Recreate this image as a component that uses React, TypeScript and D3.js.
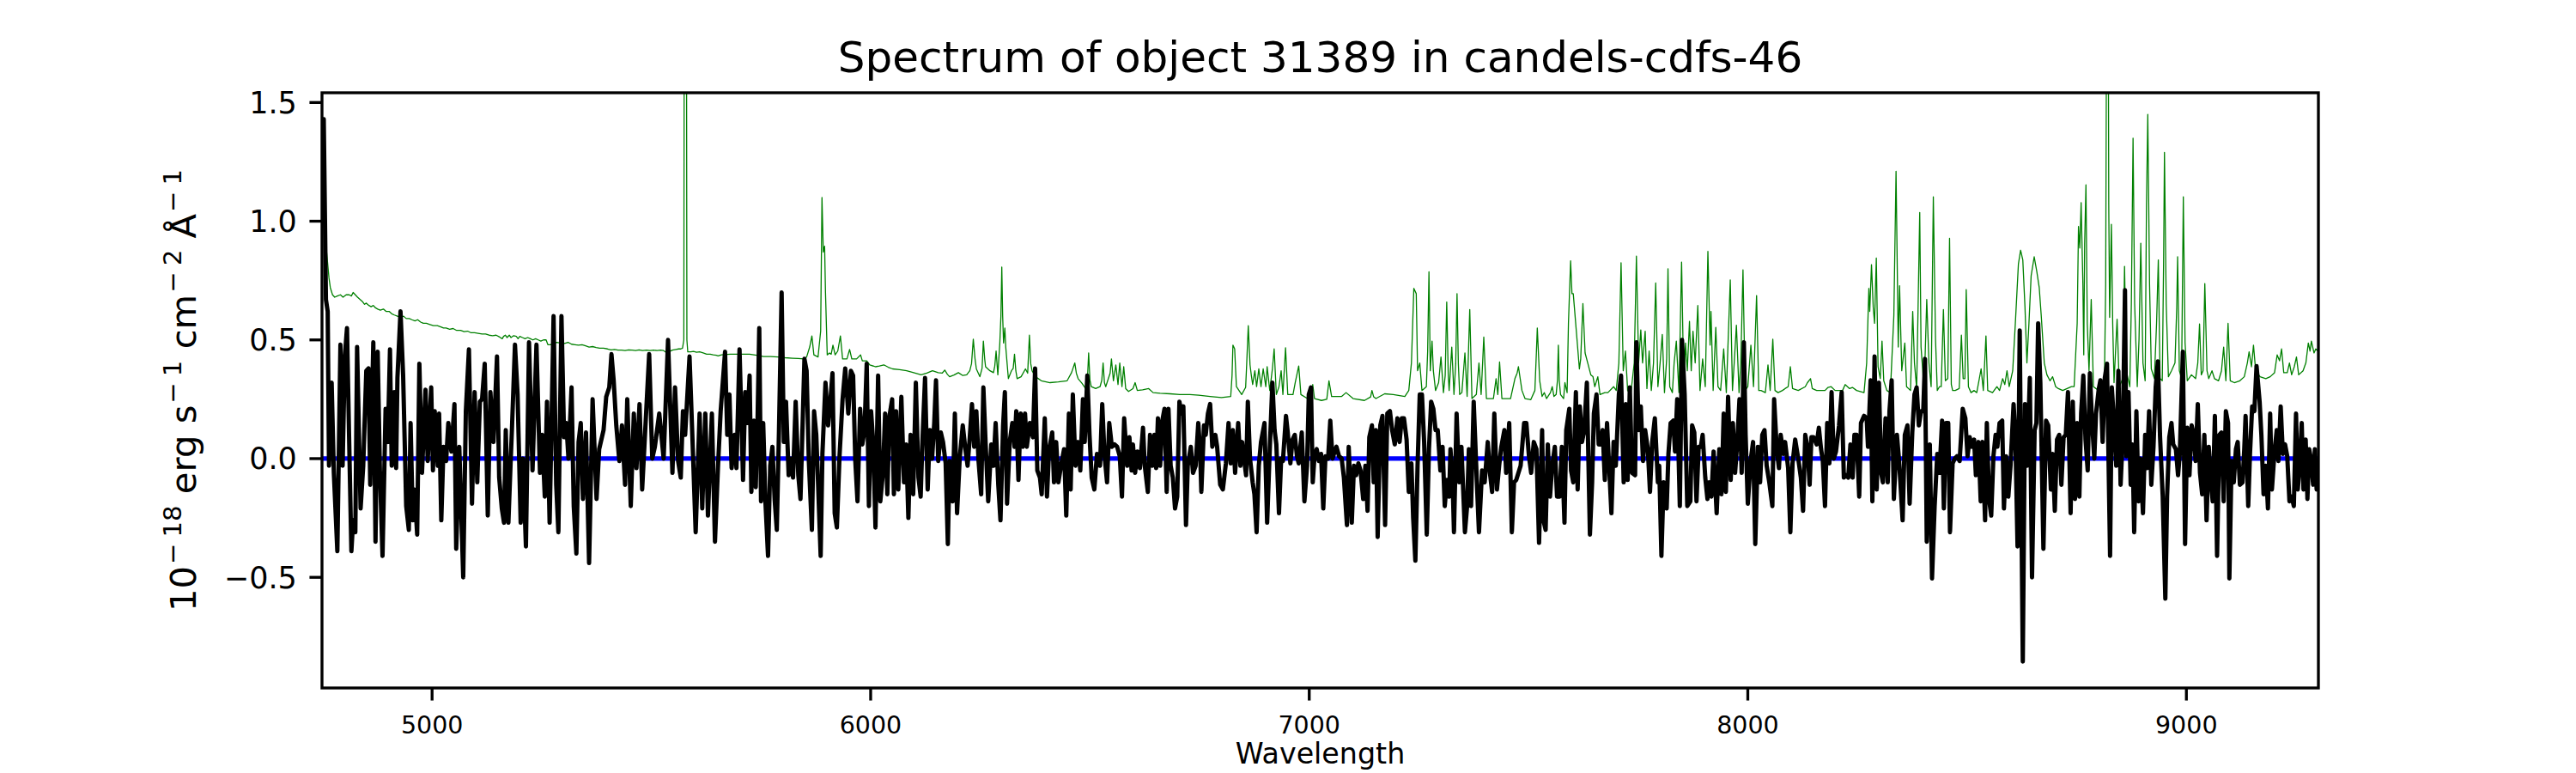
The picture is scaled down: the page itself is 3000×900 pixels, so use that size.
import React from 'react';
import * as d3 from 'd3';

const titleText = 'Spectrum of object 31389 in candels-cdfs-46';
const xLabelText = 'Wavelength';
const xTicks = [5000, 6000, 7000, 8000, 9000];
const yTicks = [-0.5, 0, 0.5, 1.0, 1.5];
const xDomain: [number, number] = [4749, 9301];
const yDomain: [number, number] = [-0.966, 1.541];
const zeroLevel = 0;

// observed flux (black), [wavelength, flux]
const fluxSeg1: [number, number][] = [[4749,1.40],[4753,1.43],[4758,0.67],[4762,0.62],[4765,-0.03],[4771,0.32],[4776,-0.06],[4784,-0.39],[4791,0.48],[4796,-0.03],[4801,0.43],[4806,0.55],[4811,0.07],[4816,-0.39],[4820,-0.26],[4825,-0.31],[4829,0.47],[4837,-0.21],[4843,-0.03],[4850,0.37],[4855,0.38],[4859,-0.11],[4866,0.49],[4871,-0.35],[4876,0.45],[4881,-0.05],[4887,-0.41],[4894,0.21],[4899,0.07],[4904,0.46],[4908,-0.03],[4914,0.28],[4918,-0.04],[4921,0.34],[4928,0.62],[4934,0.35],[4941,-0.20],[4947,-0.30],[4951,0.15],[4956,-0.26],[4960,-0.13],[4966,-0.32],[4971,0.40],[4977,-0.06],[4985,0.29],[4990,-0.01],[4998,0.30],[5002,-0.05],[5006,0.20],[5013,-0.03],[5016,0.19],[5021,-0.26],[5026,0.05],[5032,-0.01],[5037,0.15],[5044,0.03],[5051,0.23],[5055,-0.38],[5062,0.05],[5071,-0.50],[5077,0.20],[5084,0.46],[5091,-0.19],[5097,0.28],[5103,-0.10],[5109,0.24],[5114,0.25],[5120,0.40],[5127,-0.24],[5133,0.28],[5140,0.07],[5148,0.43],[5153,-0.08],[5159,-0.21],[5164,-0.27],[5168,0.12],[5174,-0.27],[5179,-0.02],[5182,0.12],[5189,0.48],[5195,0.27],[5202,-0.27],[5207,0.00],[5214,-0.37],[5221,0.49],[5229,-0.05],[5238,0.48],[5246,-0.06],[5251,0.10],[5257,-0.16],[5262,0.24],[5268,-0.27],[5277,0.60],[5283,-0.11],[5288,-0.31],[5295,0.60],[5301,0.09],[5306,0.15],[5311,0.00],[5318,0.30],[5323,-0.20],[5329,-0.40],[5334,0.07],[5339,0.15],[5344,-0.17],[5351,0.11],[5358,-0.44],[5366,0.25],[5375,-0.17],[5381,0.04],[5391,0.12],[5397,0.26],[5404,0.30],[5409,0.44],[5414,0.33],[5420,0.14],[5427,-0.01],[5433,0.14],[5440,-0.11],[5445,0.25],[5453,-0.20],[5460,0.19],[5466,-0.04],[5473,0.23],[5479,-0.13],[5486,0.12],[5495,0.44],[5502,0.00],[5508,0.05],[5518,0.19],[5528,0.00],[5538,0.50],[5548,-0.06],[5554,0.30],[5561,-0.01],[5567,-0.08],[5572,0.20],[5577,0.10],[5587,0.43],[5593,0.12],[5601,-0.31],[5610,0.19],[5616,-0.21],[5623,0.19],[5629,-0.24],[5638,0.19],[5645,-0.35],[5652,-0.03],[5658,0.20],[5668,0.45],[5673,0.10],[5678,0.27]];
const fluxSeg2: [number, number][] = [[5683,-0.04],[5690,0.10],[5694,-0.04],[5701,0.46],[5706,0.12],[5709,-0.09],[5714,0.28],[5719,0.15],[5724,0.35],[5728,-0.14],[5734,0.16],[5738,-0.12],[5742,0.15],[5746,0.55],[5750,-0.18],[5755,0.15],[5760,-0.18],[5766,-0.41],[5771,-0.03],[5776,0.05],[5781,-0.17],[5786,-0.30],[5791,0.12],[5797,0.70],[5802,0.07],[5807,0.24],[5813,-0.07],[5818,0.00],[5823,-0.08],[5829,0.24],[5835,-0.07],[5840,-0.17],[5844,0.09],[5849,0.42],[5854,0.37],[5859,-0.01],[5866,-0.30],[5871,0.20],[5876,0.10],[5880,-0.10],[5886,-0.41],[5890,0.02],[5897,0.32],[5903,0.14],[5908,0.24],[5913,0.36],[5918,-0.23],[5923,-0.29],[5929,0.01],[5936,0.25],[5942,0.38],[5949,0.19],[5955,0.37],[5960,0.35],[5965,-0.01],[5970,-0.18],[5976,0.21],[5981,0.06],[5986,0.12],[5991,0.40],[5996,-0.20],[6001,0.20],[6006,0.06],[6011,-0.29],[6017,0.35],[6022,-0.18],[6028,-0.06],[6033,0.19],[6038,-0.15],[6043,0.18],[6049,0.25],[6053,-0.15],[6058,0.20],[6063,-0.13],[6070,0.26],[6076,-0.10],[6081,0.06],[6086,-0.25],[6091,0.10],[6097,-0.15],[6103,0.32],[6109,-0.08],[6114,-0.16],[6118,0.07],[6124,0.34],[6130,-0.13],[6135,0.12],[6140,0.00],[6145,0.15],[6149,0.33],[6154,-0.01],[6160,0.11],[6165,0.07],[6171,-0.02],[6176,-0.36],[6180,-0.01],[6187,-0.18],[6192,0.19],[6197,-0.23],[6203,0.00],[6210,0.14],[6216,0.04],[6221,-0.03],[6226,0.09],[6231,0.23],[6236,0.05],[6241,0.20],[6246,-0.01],[6252,-0.15],[6257,0.30],[6262,0.07],[6268,-0.18],[6275,0.06],[6280,-0.03],[6285,0.15],[6291,-0.11],[6296,-0.26],[6302,0.14],[6306,0.28],[6311,-0.19],[6317,0.07],[6323,0.15],[6328,0.05],[6332,0.20],[6337,-0.09],[6342,0.19],[6347,0.05],[6352,0.19],[6356,0.05],[6363,0.15],[6370,0.09],[6375,0.38],[6380,-0.05],[6386,-0.08],[6390,-0.15],[6397,0.17],[6402,-0.16],[6407,0.04],[6414,0.11],[6418,-0.10],[6423,0.07],[6428,-0.10],[6435,-0.02],[6441,0.04],[6446,-0.24],[6452,0.19],[6456,-0.13],[6461,0.27],[6467,-0.03],[6473,0.07],[6478,-0.05],[6484,0.25],[6488,0.07],[6494,0.35],[6499,0.10],[6504,-0.08],[6510,-0.13],[6516,0.02],[6523,-0.03],[6528,0.23],[6533,0.02],[6539,-0.10],[6544,0.15],[6550,0.05],[6556,0.06],[6562,0.05],[6568,0.01],[6573,-0.16],[6578,0.17],[6585,-0.03],[6590,0.09],[6595,-0.05]];
const fluxSeg3: [number, number][] = [[6598,0.06],[6603,-0.06],[6608,0.03],[6614,-0.04],[6621,0.13],[6625,-0.03],[6632,-0.14],[6637,0.10],[6642,-0.03],[6647,0.10],[6651,-0.04],[6655,0.17],[6660,-0.03],[6665,0.16],[6670,0.21],[6675,-0.14],[6679,0.21],[6684,-0.03],[6689,-0.08],[6694,-0.21],[6699,-0.16],[6704,0.24],[6709,0.19],[6713,0.22],[6719,-0.28],[6723,-0.03],[6730,0.05],[6735,-0.06],[6741,-0.03],[6747,0.15],[6751,0.04],[6754,-0.14],[6760,0.14],[6764,0.10],[6769,0.19],[6774,0.23],[6779,0.05],[6786,0.10],[6790,0.05],[6797,-0.11],[6803,-0.13],[6810,-0.02],[6816,0.15],[6821,-0.02],[6826,0.12],[6831,-0.06],[6838,0.15],[6843,-0.03],[6847,0.07],[6852,-0.01],[6856,-0.07],[6860,0.24],[6865,0.00],[6871,-0.10],[6875,-0.15],[6880,-0.31],[6885,-0.03],[6890,0.07],[6895,0.12],[6898,0.15],[6904,-0.27],[6910,0.04],[6916,0.32],[6921,0.12],[6925,0.06],[6931,-0.23],[6936,0.00],[6940,-0.01],[6947,0.18],[6951,0.11],[6957,-0.02],[6962,0.08],[6967,0.10],[6972,0.01],[6976,-0.02],[6983,0.11],[6989,-0.18],[6995,-0.03],[6999,0.27],[7004,0.30],[7008,-0.10],[7012,0.01],[7017,0.04],[7022,-0.01],[7027,0.02],[7032,-0.21],[7037,0.01],[7043,0.00],[7048,0.16],[7053,0.00],[7058,0.03],[7062,0.05],[7068,0.01],[7074,0.00],[7079,-0.08],[7086,-0.28],[7090,0.05],[7097,-0.27],[7102,-0.03],[7107,-0.07],[7112,-0.02],[7117,-0.05],[7123,-0.17],[7128,-0.03],[7133,-0.22],[7137,0.09],[7143,0.14],[7147,-0.10],[7152,0.12],[7156,-0.33],[7162,0.14],[7167,0.18],[7173,-0.28],[7178,0.19],[7184,0.20],[7189,0.12],[7195,0.06],[7201,0.17],[7206,0.07],[7211,0.17],[7216,0.17],[7222,0.08],[7227,-0.14],[7233,-0.02],[7237,-0.25],[7242,-0.43],[7247,-0.03],[7252,0.27],[7257,0.27],[7262,0.07],[7268,-0.32],[7273,0.04],[7278,0.24],[7283,0.21],[7288,0.12],[7293,0.12],[7299,-0.05],[7304,0.05],[7309,-0.20],[7314,-0.09],[7319,-0.16],[7322,0.04],[7327,-0.10],[7330,-0.31],[7336,0.19],[7342,-0.10],[7347,0.05],[7355,-0.31],[7360,-0.20],[7364,0.04],[7369,-0.20],[7375,0.24],[7382,-0.09],[7387,-0.31],[7394,-0.05],[7400,-0.10],[7407,0.07],[7412,-0.06],[7417,-0.14],[7422,0.19],[7428,-0.13],[7433,-0.03],[7438,0.05],[7445,0.12],[7449,-0.06],[7456,0.15],[7462,-0.31],[7467,-0.10],[7472,-0.09],[7482,-0.03],[7490,0.15],[7495,0.15],[7501,0.01],[7506,-0.06],[7512,0.07],[7518,0.04]];
const fluxSeg4: [number, number][] = [[7524,-0.355],[7531,0.12],[7534,-0.26],[7539,-0.30],[7544,0.06],[7549,-0.16],[7554,-0.03],[7560,0.05],[7565,-0.16],[7571,-0.16],[7576,0.05],[7582,-0.27],[7586,0.12],[7593,0.21],[7597,-0.05],[7602,-0.10],[7608,0.28],[7612,-0.13],[7617,0.22],[7622,0.07],[7627,0.12],[7633,0.32],[7640,-0.32],[7645,-0.10],[7649,0.19],[7655,0.27],[7660,0.06],[7665,0.06],[7669,0.12],[7674,-0.09],[7679,0.15],[7684,-0.04],[7689,-0.23],[7694,0.07],[7699,-0.03],[7706,0.27],[7711,0.35],[7717,-0.10],[7722,0.23],[7726,-0.09],[7731,0.30],[7736,-0.06],[7743,-0.07],[7746,0.49],[7751,0.12],[7756,0.22],[7761,-0.01],[7766,0.12],[7772,0.04],[7777,-0.14],[7782,0.07],[7788,0.17],[7795,-0.10],[7798,-0.03],[7803,-0.41],[7808,-0.10],[7815,-0.21],[7819,0.02],[7824,0.15],[7830,0.16],[7834,0.03],[7839,0.25],[7845,-0.20],[7850,0.50],[7856,0.27],[7862,-0.20],[7869,-0.18],[7873,0.14],[7878,0.11],[7883,-0.18],[7888,0.05],[7893,0.05],[7897,0.10],[7903,-0.08],[7908,-0.17],[7912,-0.10],[7917,-0.16],[7922,0.03],[7929,-0.23],[7935,0.04],[7940,-0.15],[7945,0.19],[7950,-0.14],[7955,0.26],[7961,-0.09],[7966,0.15],[7971,-0.06],[7976,0.07],[7981,0.25],[7986,-0.06],[7991,0.49],[7995,0.10],[8000,-0.19],[8007,0.00],[8012,0.07],[8017,-0.36],[8023,0.05],[8028,-0.10],[8033,0.10],[8038,0.12],[8043,-0.03],[8049,-0.10],[8056,-0.20],[8060,0.25],[8066,0.04],[8071,-0.04],[8075,0.10],[8081,0.02],[8085,0.07],[8092,-0.04],[8097,-0.31],[8102,-0.02],[8108,0.08],[8115,0.00],[8121,-0.08],[8126,-0.22],[8131,0.10],[8136,0.05],[8141,-0.11],[8145,0.09],[8150,0.09],[8157,0.06],[8162,0.13],[8167,0.04],[8171,-0.01],[8176,-0.20],[8181,0.15],[8186,-0.02],[8191,0.28],[8196,0.00],[8201,0.03],[8208,0.14],[8214,0.28],[8219,-0.08],[8224,-0.07],[8229,-0.08],[8234,0.06],[8239,-0.08],[8243,0.10],[8248,0.10],[8254,-0.16],[8258,0.15],[8265,0.18],[8271,0.17],[8274,0.05],[8280,0.33],[8284,-0.18],[8289,0.43],[8294,-0.13],[8299,0.32],[8304,-0.06],[8308,-0.10],[8314,0.17],[8319,-0.10],[8323,0.20],[8328,0.33],[8333,-0.17],[8340,0.10],[8345,-0.01],[8353,-0.26],[8358,0.10],[8364,0.14],[8369,-0.19],[8375,0.11],[8380,0.27],[8385,0.30],[8390,0.14],[8395,0.20],[8400,0.20],[8404,0.42],[8408,-0.35],[8415,0.06],[8420,-0.505],[8426,-0.20],[8432,0.02],[8437,-0.06]];
const fluxSeg5: [number, number][] = [[8443,0.16],[8447,-0.21],[8452,0.15],[8457,0.15],[8461,-0.31],[8467,-0.02],[8472,0.00],[8477,0.01],[8483,-0.01],[8490,0.21],[8496,0.17],[8501,0.01],[8506,0.09],[8511,0.05],[8516,0.08],[8520,-0.07],[8526,0.07],[8531,-0.18],[8535,0.07],[8541,-0.26],[8545,0.15],[8550,-0.17],[8555,-0.24],[8560,0.01],[8565,0.10],[8569,0.05],[8574,0.15],[8580,0.16],[8584,-0.21],[8589,0.01],[8594,-0.16],[8599,-0.03],[8606,0.23],[8610,0.10],[8615,-0.37],[8620,0.54],[8627,-0.855],[8632,0.23],[8637,-0.03],[8643,0.34],[8648,-0.50],[8654,0.12],[8658,0.15],[8662,0.57],[8667,0.32],[8674,-0.38],[8680,0.16],[8685,0.14],[8691,-0.13],[8695,0.02],[8700,-0.22],[8705,0.08],[8710,0.10],[8715,-0.11],[8720,0.09],[8725,0.10],[8730,0.28],[8736,-0.23],[8741,0.24],[8746,-0.17],[8751,0.15],[8756,-0.16],[8760,0.19],[8765,0.35],[8770,0.08],[8775,-0.05],[8780,0.36],[8785,0.15],[8790,0.00],[8794,0.19],[8800,0.29],[8804,0.33],[8809,0.07],[8814,0.34],[8819,0.40],[8826,-0.41],[8830,0.30],[8835,0.15],[8840,-0.03],[8845,0.37],[8850,-0.11],[8855,0.10],[8860,0.71],[8863,0.01],[8868,0.28],[8873,-0.11],[8877,0.06],[8881,-0.31],[8886,0.20],[8891,-0.18],[8895,0.00],[8901,-0.23],[8906,0.10],[8910,-0.04],[8915,0.20],[8920,-0.11],[8925,0.05],[8930,0.30],[8935,0.41],[8940,0.09],[8946,-0.16],[8952,-0.59],[8956,-0.16],[8961,0.09],[8966,0.15],[8970,0.06],[8976,0.04],[8981,-0.07],[8985,0.02],[8992,0.45],[8997,-0.36],[9002,0.13],[9007,-0.07],[9012,0.14],[9017,0.10],[9021,-0.01],[9026,0.23],[9031,-0.06],[9036,-0.15],[9041,0.10],[9046,-0.26],[9051,0.05],[9056,-0.10],[9060,-0.18],[9065,0.18],[9070,-0.41],[9075,0.10],[9080,0.11],[9085,-0.18],[9090,0.20],[9095,0.15],[9098,-0.505],[9103,-0.01],[9108,-0.10],[9113,0.04],[9117,0.07],[9122,-0.11],[9128,-0.10],[9132,0.04],[9135,0.18],[9141,-0.20],[9145,0.02],[9150,0.22],[9155,0.20],[9160,0.39],[9167,0.24],[9171,0.10],[9176,-0.15],[9181,-0.03],[9186,-0.21],[9191,0.19],[9195,-0.13],[9201,0.03],[9206,0.12],[9210,-0.01],[9215,0.22],[9220,0.02],[9225,0.06],[9230,0.01],[9235,-0.18],[9240,-0.16],[9245,-0.20],[9250,0.19],[9254,-0.13],[9258,-0.04],[9263,0.15],[9267,-0.13],[9272,0.08],[9276,-0.17],[9280,0.04],[9284,0.00],[9289,-0.11],[9293,0.04],[9297,-0.13],[9300,0.00]];

// noise / sky spectrum (green), [wavelength, value]
const skySeg1: [number, number][] = [[4749,1.25],[4752,1.1],[4755,1.0],[4758,0.9],[4761,0.84],[4765,0.76],[4768,0.72],[4773,0.69],[4778,0.68],[4784,0.685],[4791,0.69],[4797,0.68],[4804,0.69],[4811,0.69],[4816,0.685],[4820,0.70],[4825,0.69],[4830,0.68],[4836,0.67],[4842,0.66],[4846,0.65],[4850,0.655],[4856,0.645],[4861,0.64],[4866,0.645],[4871,0.635],[4876,0.63],[4882,0.625],[4889,0.63],[4895,0.62],[4902,0.62],[4908,0.61],[4914,0.605],[4921,0.60],[4928,0.595],[4935,0.60],[4941,0.59],[4948,0.59],[4954,0.585],[4961,0.58],[4967,0.585],[4974,0.575],[4980,0.57],[4987,0.57],[4995,0.565],[5003,0.56],[5012,0.56],[5020,0.555],[5026,0.55],[5032,0.55],[5040,0.545],[5048,0.548],[5056,0.54],[5065,0.54],[5073,0.535],[5081,0.537],[5089,0.53],[5097,0.53],[5105,0.528],[5114,0.525],[5122,0.525],[5130,0.52],[5138,0.518],[5146,0.52],[5154,0.512],[5160,0.505],[5163,0.515],[5167,0.52],[5171,0.51],[5176,0.52],[5180,0.51],[5186,0.518],[5192,0.515],[5196,0.505],[5200,0.515],[5206,0.51],[5212,0.505],[5218,0.51],[5224,0.505],[5230,0.50],[5236,0.505],[5242,0.50],[5248,0.495],[5254,0.50],[5260,0.50],[5264,0.48],[5270,0.48],[5277,0.485],[5284,0.49],[5290,0.488],[5296,0.49],[5302,0.485],[5310,0.49],[5318,0.482],[5326,0.48],[5334,0.478],[5342,0.48],[5350,0.475],[5358,0.47],[5366,0.472],[5374,0.468],[5382,0.465],[5391,0.465],[5400,0.462],[5408,0.458],[5416,0.46],[5424,0.457],[5432,0.457],[5440,0.455],[5448,0.458],[5456,0.457],[5464,0.455],[5472,0.458],[5480,0.455],[5489,0.457],[5497,0.455],[5505,0.457],[5513,0.455],[5521,0.457],[5528,0.455],[5534,0.447],[5540,0.45],[5548,0.457],[5556,0.46],[5562,0.462],[5567,0.462],[5571,0.465],[5574,0.5],[5575.5,2.8],[5579.5,2.8],[5581,0.5],[5583,0.45],[5590,0.45],[5596,0.452],[5603,0.448],[5610,0.45],[5618,0.445],[5626,0.44],[5634,0.44],[5641,0.437],[5648,0.435],[5652,0.433],[5660,0.437]];
const skySeg2: [number, number][] = [[5680,0.44],[5700,0.44],[5724,0.44],[5740,0.435],[5756,0.43],[5772,0.43],[5789,0.428],[5805,0.425],[5822,0.423],[5835,0.422],[5848,0.42],[5854,0.428],[5861,0.47],[5866,0.517],[5870.5,0.437],[5880,0.428],[5886,0.537],[5889,1.10],[5892,0.87],[5895,0.895],[5897,0.70],[5901,0.437],[5906,0.445],[5910,0.44],[5914,0.478],[5919,0.437],[5925,0.453],[5931,0.517],[5936,0.42],[5946,0.42],[5952,0.46],[5957,0.42],[5968,0.42],[5977,0.437],[5981,0.412],[5991,0.412],[5998,0.395],[6011,0.387],[6020,0.39],[6030,0.395],[6040,0.385],[6050,0.378],[6066,0.375],[6082,0.37],[6098,0.362],[6115,0.353],[6128,0.36],[6141,0.37],[6154,0.362],[6163,0.36],[6169,0.373],[6175,0.355],[6180,0.345],[6190,0.352],[6200,0.362],[6210,0.35],[6219,0.353],[6226,0.37],[6230,0.40],[6234,0.503],[6238,0.42],[6241,0.378],[6249,0.345],[6254,0.38],[6257,0.495],[6260,0.42],[6262,0.387],[6272,0.37],[6280,0.362],[6283,0.39],[6286,0.453],[6290,0.353],[6294.5,0.487],[6297,0.6],[6299,0.807],[6301,0.6],[6303,0.487],[6306,0.55],[6308,0.47],[6314,0.337],[6321,0.37],[6325,0.38],[6328,0.44],[6331,0.37],[6334,0.337],[6343,0.345],[6353,0.378],[6358,0.36],[6362,0.52],[6365,0.4],[6368,0.37],[6376,0.345],[6389,0.328],[6409,0.32],[6428,0.323],[6448,0.328],[6458,0.362],[6465.5,0.403],[6469,0.36],[6473,0.337],[6482,0.317],[6490,0.295],[6494,0.32],[6497,0.445],[6500,0.33],[6503,0.303],[6513,0.295],[6523,0.303],[6527,0.33],[6530,0.403],[6533,0.32],[6536,0.303],[6542,0.337],[6546,0.36],[6549,0.42],[6553.5,0.328],[6559,0.395],[6564,0.312],[6568,0.403],[6573,0.303],[6577,0.387],[6581.5,0.295],[6588,0.283],[6598,0.295]];
const skySeg3: [number, number][] = [[6603,0.32],[6608,0.287],[6620,0.29],[6634,0.295],[6644,0.278],[6660,0.275],[6683,0.273],[6705,0.27],[6728,0.27],[6748,0.267],[6774,0.262],[6800,0.257],[6821,0.262],[6824,0.35],[6826,0.478],[6830,0.462],[6832,0.38],[6834,0.303],[6846,0.27],[6855,0.3],[6857.5,0.403],[6861,0.56],[6865,0.395],[6868,0.35],[6871,0.312],[6876,0.37],[6880,0.303],[6885,0.378],[6890,0.303],[6895,0.378],[6901,0.303],[6904,0.387],[6910,0.287],[6916,0.378],[6920,0.462],[6925,0.27],[6931,0.303],[6936,0.37],[6940,0.27],[6946,0.467],[6951,0.27],[6963,0.27],[6968,0.32],[6976,0.39],[6981,0.27],[6996,0.253],[7005,0.26],[7008,0.312],[7012,0.253],[7028,0.245],[7040,0.25],[7045,0.328],[7051,0.262],[7074,0.262],[7084,0.278],[7100,0.253],[7126,0.245],[7140,0.26],[7143,0.287],[7147,0.26],[7152,0.253],[7172,0.273],[7191.5,0.27],[7218,0.262],[7227,0.287],[7233,0.403],[7238.5,0.717],[7244,0.695],[7247,0.37],[7252,0.403],[7257,0.287],[7267,0.303],[7270,0.45],[7273,0.787],[7276,0.37],[7280,0.495],[7283,0.37],[7288,0.287],[7295,0.32],[7300.4,0.428],[7306,0.278],[7310,0.35],[7313.5,0.66],[7317,0.35],[7319,0.287],[7325,0.47],[7330,0.27],[7334,0.4],[7337,0.695],[7340,0.4],[7343,0.27],[7348,0.278],[7355,0.445],[7360,0.262],[7366,0.628],[7371,0.253],[7381,0.27],[7387,0.403],[7392,0.27],[7398,0.512],[7404,0.253],[7420,0.253],[7426,0.337],[7430,0.27],[7434,0.407],[7439.3,0.253],[7459,0.253],[7469,0.337],[7474,0.36],[7477,0.387],[7485,0.287],[7492,0.253],[7505,0.248],[7514.5,0.287]];
const skySeg4: [number, number][] = [[7518,0.45],[7520,0.55],[7525.5,0.328],[7531,0.262],[7536,0.278],[7541,0.253],[7550,0.278],[7554,0.303],[7558,0.262],[7563,0.27],[7566,0.33],[7568,0.478],[7570,0.33],[7573,0.27],[7580,0.253],[7583,0.32],[7588,0.278],[7591,0.57],[7596,0.833],[7599,0.695],[7602,0.695],[7609,0.537],[7616,0.378],[7619,0.42],[7624,0.653],[7629,0.445],[7635,0.403],[7642,0.353],[7647,0.345],[7651,0.303],[7658,0.345],[7663,0.27],[7674,0.278],[7681,0.278],[7694,0.303],[7700,0.287],[7706,0.403],[7711,0.825],[7716,0.37],[7721,0.453],[7726,0.287],[7733,0.27],[7741,0.403],[7746,0.853],[7751,0.403],[7756,0.542],[7760,0.403],[7766,0.537],[7770,0.295],[7775,0.453],[7780,0.287],[7785,0.403],[7790,0.74],[7795,0.303],[7800,0.403],[7805,0.523],[7810,0.278],[7815,0.42],[7818,0.80],[7822,0.303],[7828,0.278],[7832,0.403],[7837,0.495],[7843,0.278],[7849,0.828],[7854,0.303],[7858,0.487],[7862,0.37],[7867,0.578],[7871,0.37],[7875,0.537],[7880,0.403],[7886,0.645],[7891,0.287],[7897,0.42],[7903,0.303],[7909,0.873],[7914,0.478],[7916,0.62],[7921,0.287],[7927,0.553],[7932,0.303],[7938,0.287],[7945,0.462],[7951,0.278],[7960,0.753],[7965,0.287],[7969,0.403],[7974,0.562],[7980,0.278],[7984,0.403],[7989,0.795],[7994,0.287],[8000,0.303],[8007,0.478],[8013,0.303],[8020,0.687],[8025,0.287],[8030,0.287],[8040,0.278],[8046,0.395],[8051,0.287],[8057,0.503],[8062,0.287],[8069,0.278],[8079,0.287],[8085,0.295],[8092,0.303],[8097,0.387],[8102,0.295],[8115,0.287],[8131,0.303],[8136,0.32],[8143,0.337],[8147,0.295],[8157,0.287],[8167,0.287],[8176,0.287],[8183,0.30],[8190,0.303],[8199,0.287],[8216,0.287],[8222,0.312],[8232,0.295],[8238.5,0.30],[8248,0.287],[8265,0.278],[8271,0.403],[8276,0.717],[8278,0.62],[8282,0.817],[8286,0.637],[8289,0.57],[8293,0.845],[8297,0.387],[8302,0.337],[8306,0.495],[8310,0.328],[8317,0.287],[8325,0.278],[8333,0.603],[8338,1.21],[8343,0.47],[8346,0.728],[8351,0.37],[8358,0.487],[8362,0.303],[8371,0.287],[8376,0.62],[8380,0.403],[8385,0.295],[8392,1.037],[8395,0.47],[8402,0.287],[8408,0.67],[8413,0.403],[8418,0.303],[8423,1.103],[8428,0.503],[8432,0.287],[8437,0.303]];
const skySeg5: [number, number][] = [[8441,0.303],[8446,0.628],[8450.5,0.328],[8456,0.337],[8460,0.928],[8464,0.312],[8467,0.287],[8473,0.287],[8482,0.295],[8487,0.52],[8491,0.337],[8495,0.337],[8498,0.712],[8503,0.303],[8509,0.278],[8516,0.287],[8522,0.278],[8532,0.378],[8537,0.287],[8543,0.517],[8547,0.287],[8558,0.278],[8568,0.303],[8574,0.287],[8581,0.337],[8586,0.312],[8591,0.37],[8596,0.303],[8604,0.37],[8610,0.57],[8617,0.82],[8622,0.878],[8627,0.837],[8632,0.637],[8636.4,0.403],[8641,0.57],[8646,0.77],[8653,0.85],[8659,0.787],[8664.5,0.72],[8669,0.603],[8676,0.403],[8682,0.353],[8689,0.328],[8695,0.345],[8702,0.303],[8708,0.295],[8718,0.287],[8728,0.295],[8738,0.303],[8744,0.303],[8751,0.57],[8754,0.978],[8757,0.887],[8760,1.078],[8764,0.737],[8766,0.437],[8768,0.903],[8771,1.153],[8774,0.57],[8778,0.37],[8783,0.67],[8788,0.303],[8800,0.287],[8813,0.303],[8816,0.737],[8819,2.5],[8821,2.5],[8823,1.07],[8825,0.595],[8829,0.987],[8832,0.57],[8835,0.32],[8842,0.587],[8847,0.303],[8855,0.337],[8859,0.81],[8863,0.37],[8871,0.303],[8874.5,0.653],[8878.4,1.35],[8882,0.653],[8888,0.303],[8892,0.503],[8896,0.907],[8901,0.403],[8906,0.328],[8909,1.07],[8912,1.45],[8916,0.737],[8920,0.378],[8927,0.337],[8932,0.57],[8936,0.837],[8940,0.337],[8945,0.328],[8948,0.82],[8950,1.29],[8954,0.653],[8959,0.345],[8966,0.37],[8974,0.403],[8978,0.637],[8980,0.85],[8984,0.37],[8989,0.337],[8993,1.103],[8997,0.487],[9002,0.328],[9011.5,0.353],[9021,0.337],[9026,0.403],[9030,0.567],[9034,0.353],[9038,0.37],[9042,0.737],[9047,0.37],[9051,0.337],[9058.4,0.37],[9064,0.337],[9073.4,0.328],[9080,0.37],[9085,0.47],[9090,0.328],[9095,0.57],[9100,0.328],[9109.3,0.32],[9122,0.328],[9132,0.345],[9139,0.403],[9143,0.45],[9148.4,0.387],[9153,0.478],[9158,0.37],[9168,0.345],[9181,0.337],[9191,0.345],[9201,0.362],[9207,0.437],[9212.4,0.412],[9217,0.462],[9222,0.362],[9230,0.362],[9235,0.403],[9240,0.353],[9246,0.387],[9251,0.428],[9256,0.353],[9266,0.37],[9272.4,0.403],[9278,0.487],[9282,0.453],[9285,0.495],[9291,0.445],[9295,0.462],[9300.4,0.453]];

const fluxData = [...fluxSeg1, ...fluxSeg2, ...fluxSeg3, ...fluxSeg4, ...fluxSeg5];
const skyData = [...skySeg1, ...skySeg2, ...skySeg3, ...skySeg4, ...skySeg5];

// y-axis label pieces: [base text, superscript]
const yLabelParts: [string, string][] = [
  ['10', '18'],
  [' erg s', '1'],
  [' cm', '2'],
  [' \u00c5', '1'],
];

const W = 3000;
const H = 900;
const plot = { left: 375, right: 2700, top: 108, bottom: 801 };
const FONT = "'DejaVu Sans', sans-serif";
const PT = 300 / 72;

const fmtY = (v: number) => (v < 0 ? '\u2212' : '') + Math.abs(v).toFixed(1);

export default function App() {
  const x = d3.scaleLinear().domain(xDomain).range([plot.left, plot.right]);
  const y = d3.scaleLinear().domain(yDomain).range([plot.bottom, plot.top]);
  const line = d3
    .line<[number, number]>()
    .x((d) => x(d[0]))
    .y((d) => y(d[1]));
  const zeroLine: [number, number][] = [
    [xDomain[0], zeroLevel],
    [xDomain[1], zeroLevel],
  ];
  const tickLen = 3.5 * PT;
  const spineW = 0.8 * PT;
  const cx = (plot.left + plot.right) / 2;
  const cy = (plot.top + plot.bottom) / 2;
  const supSize = 29.2;
  const supShift = 17;

  return (
    <svg
      width={W}
      height={H}
      viewBox={`0 0 ${W} ${H}`}
      style={{ position: 'absolute', left: 0, top: 0, background: '#fff' }}
    >
      <rect x={0} y={0} width={W} height={H} fill="#fff" />
      <defs>
        <clipPath id="plotClip">
          <rect x={plot.left} y={plot.top} width={plot.right - plot.left} height={plot.bottom - plot.top} />
        </clipPath>
      </defs>
      <g clipPath="url(#plotClip)">
        <path d={line(skyData) || ''} fill="none" stroke="#008000" strokeWidth={1.3} strokeLinejoin="round" />
        <path d={line(zeroLine) || ''} fill="none" stroke="#0000ff" strokeWidth={5.2} />
        <path d={line(fluxData) || ''} fill="none" stroke="#000" strokeWidth={5} strokeLinejoin="round" />
      </g>
      <rect
        x={plot.left}
        y={plot.top}
        width={plot.right - plot.left}
        height={plot.bottom - plot.top}
        fill="none"
        stroke="#000"
        strokeWidth={spineW}
      />
      {xTicks.map((t) => (
        <g key={'x' + t}>
          <line x1={x(t)} x2={x(t)} y1={plot.bottom} y2={plot.bottom + tickLen} stroke="#000" strokeWidth={spineW} />
          <text x={x(t)} y={854} textAnchor="middle" fontFamily={FONT} fontSize={28.5} fill="#000">
            {t}
          </text>
        </g>
      ))}
      {yTicks.map((t) => (
        <g key={'y' + t}>
          <line x1={plot.left - tickLen} x2={plot.left} y1={y(t)} y2={y(t)} stroke="#000" strokeWidth={spineW} />
          <text x={plot.left - 2 * tickLen} y={y(t) + 12.5} textAnchor="end" fontFamily={FONT} fontSize={35} fill="#000">
            {fmtY(t)}
          </text>
        </g>
      ))}
      <text x={cx} y={84} textAnchor="middle" fontFamily={FONT} fontSize={50} fill="#000">
        {titleText}
      </text>
      <text x={cx} y={889} textAnchor="middle" fontFamily={FONT} fontSize={33.3} fill="#000">
        {xLabelText}
      </text>
      <text
        transform={`translate(228, ${cy}) rotate(-90)`}
        textAnchor="middle"
        fontFamily={FONT}
        fontSize={41.7}
        fill="#000"
      >
        {yLabelParts.map(([base, sup], i) => (
          <React.Fragment key={i}>
            <tspan dy={i === 0 ? 0 : supShift}>{base}</tspan>
            <tspan dx={2} dy={-supShift} fontSize={supSize}>{'\u2212'}</tspan>
            <tspan dx={7} fontSize={supSize}>{sup}</tspan>
          </React.Fragment>
        ))}
      </text>
    </svg>
  );
}
